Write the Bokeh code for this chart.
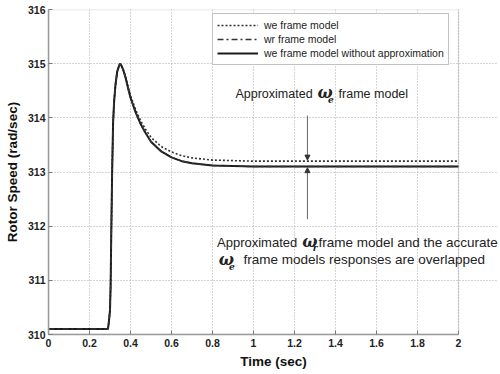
from bokeh.plotting import figure
from bokeh.models import (ColumnDataSource, Range1d, FixedTicker, Label, Arrow,
                          NormalHead, Legend, LegendItem, BoxAnnotation)
from bokeh.embed import file_html
from bokeh.resources import INLINE

# ---- data ----
t_acc = [0, 0.1, 0.2, 0.29, 0.295, 0.30, 0.303, 0.306, 0.31, 0.315, 0.32, 0.327, 0.335,
         0.345, 0.35, 0.355, 0.365, 0.376, 0.39, 0.40, 0.425, 0.45, 0.475, 0.50,
         0.55, 0.60, 0.65, 0.70, 0.80, 0.90, 1.0, 1.2, 1.5, 2.0]
y_acc = [310.1, 310.1, 310.1, 310.1, 310.25, 310.45, 310.9, 311.8, 312.9, 313.9, 314.3, 314.62, 314.85,
         314.97, 315.0, 314.97, 314.88, 314.74, 314.52, 314.37, 314.1, 313.88, 313.71, 313.56,
         313.38, 313.27, 313.2, 313.16, 313.12, 313.11, 313.1, 313.1, 313.1, 313.1]
t_we = t_acc
y_we = [310.1, 310.1, 310.1, 310.1, 310.25, 310.45, 310.9, 311.8, 312.9, 313.9, 314.3, 314.62, 314.85,
        314.97, 315.0, 314.97, 314.89, 314.76, 314.55, 314.41, 314.15, 313.94, 313.78, 313.64,
        313.47, 313.37, 313.3, 313.26, 313.22, 313.21, 313.2, 313.2, 313.2, 313.2]
t_wr = t_acc
y_wr = y_acc

legend_labels = ["we frame model", "wr frame model", "we frame model without approximation"]
x_ticks = [0, 0.2, 0.4, 0.6, 0.8, 1.0, 1.2, 1.4, 1.6, 1.8, 2.0]
x_tick_labels = ["0", "0.2", "0.4", "0.6", "0.8", "1", "1.2", "1.4", "1.6", "1.8", "2"]
y_ticks = [310, 311, 312, 313, 314, 315, 316]
y_tick_labels = ["310", "311", "312", "313", "314", "315", "316"]
x_min, x_max = 0, 2
y_min, y_max = 310, 316

# annotation arrows (time, from, to)
arrow_t = 1.263
arrow_top = (314.04, 313.22)
arrow_bot = (312.13, 313.08)

GRAY = "#9a9a9a"
p = figure(width=500, height=374, output_backend="svg", toolbar_location=None,
           x_range=Range1d(x_min, 2.195), y_range=Range1d(y_min, y_max),
           min_border_left=48, min_border_right=2, min_border_top=9, min_border_bottom=40)
p.background_fill_color = "white"
p.border_fill_color = "white"
p.outline_line_color = None

for ax in (p.xaxis, p.yaxis):
    ax.axis_line_color = GRAY
    ax.axis_line_width = 1.5
    ax.major_tick_line_color = "#777777"
    ax.major_tick_in = 4
    ax.major_tick_out = 0
    ax.minor_tick_line_color = None
    ax.major_label_text_font = "Liberation Sans"
    ax.major_label_text_font_style = "bold"
    ax.major_label_text_font_size = "10.5px"
    ax.major_label_text_color = "#222222"
    ax.axis_label_text_font = "Liberation Sans"
    ax.axis_label_text_font_style = "bold"
    ax.axis_label_text_font_size = "13.5px"
    ax.axis_label_text_color = "#111111"

p.xaxis.bounds = (x_min, x_max)
p.xaxis.ticker = FixedTicker(ticks=x_ticks)
p.xaxis.major_label_overrides = dict(zip(x_ticks, x_tick_labels))
p.yaxis.ticker = FixedTicker(ticks=y_ticks)
p.yaxis.major_label_overrides = dict(zip(y_ticks, y_tick_labels))
p.xaxis.axis_label = "Time (sec)"
p.yaxis.axis_label = "Rotor Speed (rad/sec)"
p.xaxis.major_label_standoff = 4
p.yaxis.major_label_standoff = 3
p.xaxis.axis_label_standoff = 4
p.yaxis.axis_label_standoff = 5

p.grid.grid_line_color = "#aaaaaa"
p.grid.grid_line_dash = "1 2"
p.grid.grid_line_width = 1
p.ygrid.bounds = (x_min, x_max)

# plot box (the axes frame spans only the data limits)
p.add_layout(BoxAnnotation(left=x_min, right=x_max, bottom=y_min, top=y_max,
                           fill_alpha=0, line_color=GRAY, line_width=1.5))

src_we = ColumnDataSource(dict(t=t_we, y=y_we))
src_wr = ColumnDataSource(dict(t=t_wr, y=y_wr))
src_acc = ColumnDataSource(dict(t=t_acc, y=y_acc))

r_we = p.line("t", "y", source=src_we, line_color="#333333", line_width=1.6, line_dash="2 2")
r_acc = p.line("t", "y", source=src_acc, line_color="#1a1a1a", line_width=2)
r_wr = p.line("t", "y", source=src_wr, line_color="#333333", line_width=1.5, line_dash="6 3 2 3")

legend = Legend(items=[LegendItem(label=legend_labels[0], renderers=[r_we]),
                       LegendItem(label=legend_labels[1], renderers=[r_wr]),
                       LegendItem(label=legend_labels[2], renderers=[r_acc])],
                location=(164, 269))
legend.padding = 4
legend.spacing = 0
legend.label_height = 14
legend.glyph_height = 14
legend.glyph_width = 41
legend.label_standoff = 6
legend.label_text_font = "Liberation Sans"
legend.label_text_font_size = "10.5px"
legend.label_text_color = "#222222"
legend.border_line_color = "#888888"
legend.border_line_width = 1.5
legend.background_fill_alpha = 1
p.add_layout(legend)

# arrows
for (ys, ye) in (arrow_top, arrow_bot):
    p.add_layout(Arrow(end=NormalHead(size=5, fill_color="#333333", line_color="#333333"),
                       x_start=arrow_t, y_start=ys, x_end=arrow_t, y_end=ye,
                       line_color="#666666", line_width=1))

def lab(x, y, text, size="13px", font="Liberation Sans", style="normal"):
    p.add_layout(Label(x=x, y=y, text=text, text_font=font, text_font_size=size,
                       text_font_style=style, text_color="#222222", text_baseline="middle"))

OM = dict(font="DejaVu Serif", style="bold italic")
# "Approximated ωe frame model"
lab(0.912, 314.44, "Approximated", size="12.5px")
lab(1.312, 314.46, "ω", size="16px", **OM)
lab(1.363, 314.33, "e", size="9px", **OM)
lab(1.415, 314.44, "frame model", size="12.5px")

# "Approximated ωr frame model and the accurate / ωe frame models responses are overlapped"
lab(0.822, 311.70, "Approximated", size="13px")
lab(1.238, 311.72, "ω", size="16px", **OM)
lab(1.289, 311.59, "r", size="9px", **OM)
lab(1.317, 311.70, "frame model and the accurate", size="13.5px")
lab(0.83, 311.39, "ω", size="16px", **OM)
lab(0.881, 311.26, "e", size="9px", **OM)
lab(0.951, 311.39, "frame models responses are overlapped", size="13.5px")

open("out.html", "w").write(file_html(p, INLINE))
